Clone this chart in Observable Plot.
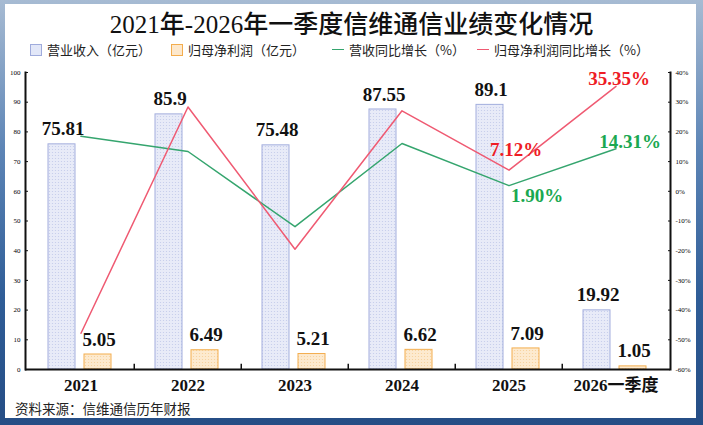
<!DOCTYPE html>
<html><head><meta charset="utf-8">
<script src="https://cdn.jsdelivr.net/npm/d3@7"></script>
<script src="https://cdn.jsdelivr.net/npm/@observablehq/plot@0.6"></script>
<style>
html,body{margin:0;padding:0;}
body{width:703px;height:425px;position:relative;overflow:hidden;
 background:linear-gradient(180deg,#a7bbd3 0%,#5d85b6 35%,#2f5d97 70%,#254d85 100%);}
#card{position:absolute;left:5px;top:4px;width:691px;height:414px;background:#fff;}
#title{position:absolute;left:0;top:4px;width:703px;text-align:center;font-family:"Liberation Serif","Noto Sans CJK SC",serif;font-size:25px;font-weight:500;color:#111;}
.item{position:absolute;top:40px;display:flex;align-items:center;font-family:"Noto Sans CJK SC",serif;font-size:13px;color:#222;white-space:nowrap;}
.sw{display:inline-block;width:10px;height:10px;margin-right:5px;}
.ln{display:inline-block;width:12px;height:0;margin-right:5px;border-top:1.5px solid;}
#chart{position:absolute;left:0;top:58px;}
#source{position:absolute;left:15px;top:398px;font-family:"Noto Sans CJK SC",serif;font-size:13.5px;color:#222;}
</style></head>
<body>
<div id="card"></div>
<div id="title">2021年-2026年一季度信维通信业绩变化情况</div>
<span class="item" style="left:30px"><span class="sw" style="background:#e2e7f8;border:1px solid #9fabdc"></span>营业收入（亿元）</span>
<span class="item" style="left:171px"><span class="sw" style="background:#fde8cc;border:1px solid #f3ad4e"></span>归母净利润（亿元）</span>
<span class="item" style="left:332px"><span class="ln" style="border-color:#35a56e"></span>营收同比增长（%）</span>
<span class="item" style="left:477px"><span class="ln" style="border-color:#ef5a72"></span>归母净利润同比增长（%）</span>
<div id="chart"></div>
<div id="source">资料来源：信维通信历年财报</div>
<script>
const years = ["2021","2022","2023","2024","2025","2026一季度"];
const revenue = [75.81, 85.9, 75.48, 87.55, 89.1, 19.92];
const profit = [5.05, 6.49, 5.21, 6.62, 7.09, 1.05];
const revenueGrowth = [18.5, 13.4, -11.9, 16.1, 1.90, 14.31];
const profitGrowth = [-47.8, 28.4, -19.5, 27.1, 7.12, 35.35];
const leftTicks = [0,10,20,30,40,50,60,70,80,90,100];
const rightTicks = [-60,-50,-40,-30,-20,-10,0,10,20,30,40];
const pctLabels = [
  {year:"2025", value:7.12, text:"7.12%", series:"profit"},
  {year:"2026一季度", value:35.35, text:"35.35%", series:"profit"},
  {year:"2025", value:1.90, text:"1.90%", series:"revenue"},
  {year:"2026一季度", value:14.31, text:"14.31%", series:"revenue"}
];
const pctOffset = 60; // right axis -60%..40% maps onto left 0..100

const rows = years.map((y,i)=>({year:y, revenue:revenue[i], profit:profit[i],
  rg:revenueGrowth[i]+pctOffset, pg:profitGrowth[i]+pctOffset}));

const serif = "'Liberation Serif','Noto Sans CJK SC',serif";
const red = "#ef5a72", green = "#35a56e";
const redText = "#ee1c25", greenText = "#1aa851";

const chart = Plot.plot({
  width: 703, height: 340,
  marginTop: 14, marginBottom: 29, marginLeft: 25, marginRight: 33,
  style: {fontFamily: serif, background: "transparent", overflow: "visible"},
  x: {type: "band", domain: years, padding: 0},
  y: {domain: [0, 100]},
  marks: [
    Plot.barY(rows, {x: "year", y: "revenue", fill: "url(#dotsB)", stroke: "#a3aedd", strokeWidth: 1, insetLeft: 21, insetRight: 59}),
    Plot.barY(rows, {x: "year", y: "profit", fill: "url(#dotsO)", stroke: "#f3ad4e", strokeWidth: 1, insetLeft: 57, insetRight: 23}),
    Plot.line(rows, {x: "year", y: "rg", stroke: green, strokeWidth: 1.5}),
    Plot.line(rows, {x: "year", y: "pg", stroke: red, strokeWidth: 1.5}),
    Plot.ruleY([0], {stroke: "#111", strokeWidth: 2}),
    Plot.frame({anchor: "left", stroke: "#111", strokeWidth: 2}),
    Plot.frame({anchor: "right", stroke: "#111", strokeWidth: 2}),
    Plot.ruleX(years.slice(1), {y1: 0, y2: 1.8, dx: -53.75, stroke: "#111", strokeWidth: 1.5}),
    Plot.axisY({anchor: "left", ticks: leftTicks, tickSize: -3, tickPadding: 8, fontSize: 7, label: null, stroke: "#111"}),
    Plot.axisY({anchor: "right", ticks: rightTicks.map(d=>d+pctOffset), tickFormat: d => (d-pctOffset)+"%", tickSize: -3, tickPadding: 8, fontSize: 7, label: null, stroke: "#111"}),
    Plot.axisX({tickSize: 0, tickPadding: 9, fontSize: 17, fontWeight: "bold", label: null, fill: "#111"}),
    Plot.text(rows, {x: "year", y: "revenue", text: d => String(d.revenue), dx: -18, dy: -15, fontSize: 19, fontWeight: "bold", fill: "#111"}),
    Plot.text(rows, {x: "year", y: "profit", text: d => String(d.profit), dx: 18, dy: -15, fontSize: 19, fontWeight: "bold", fill: "#111"}),
    Plot.text(pctLabels.filter(d=>d.series==="profit" && d.year==="2025"), {x:"year", y: d=>d.value+pctOffset, text:"text", dx: 7, dy: -20, fontSize: 19, fontWeight: "bold", fill: redText}),
    Plot.text(pctLabels.filter(d=>d.series==="profit" && d.year!=="2025"), {x:"year", y: d=>d.value+pctOffset, text:"text", dx: 3, dy: -7, fontSize: 19, fontWeight: "bold", fill: redText}),
    Plot.text(pctLabels.filter(d=>d.series==="revenue" && d.year==="2025"), {x:"year", y: d=>d.value+pctOffset, text:"text", dx: 28, dy: 10, fontSize: 19, fontWeight: "bold", fill: greenText}),
    Plot.text(pctLabels.filter(d=>d.series==="revenue" && d.year!=="2025"), {x:"year", y: d=>d.value+pctOffset, text:"text", dx: 14, dy: -7, fontSize: 19, fontWeight: "bold", fill: greenText})
  ]
});
const defs = d3.select(chart).insert("defs", ":first-child");
function pat(id, base, dot){
  const p = defs.append("pattern").attr("id", id).attr("width", 3).attr("height", 3).attr("patternUnits", "userSpaceOnUse");
  p.append("rect").attr("width", 3).attr("height", 3).attr("fill", base);
  p.append("circle").attr("cx", 1.5).attr("cy", 1.5).attr("r", 0.6).attr("fill", dot);
}
pat("dotsB", "#e8ebf8", "#c3cbea");
pat("dotsO", "#fdeacf", "#f6cf98");
document.getElementById("chart").appendChild(chart);
</script>
</body></html>
